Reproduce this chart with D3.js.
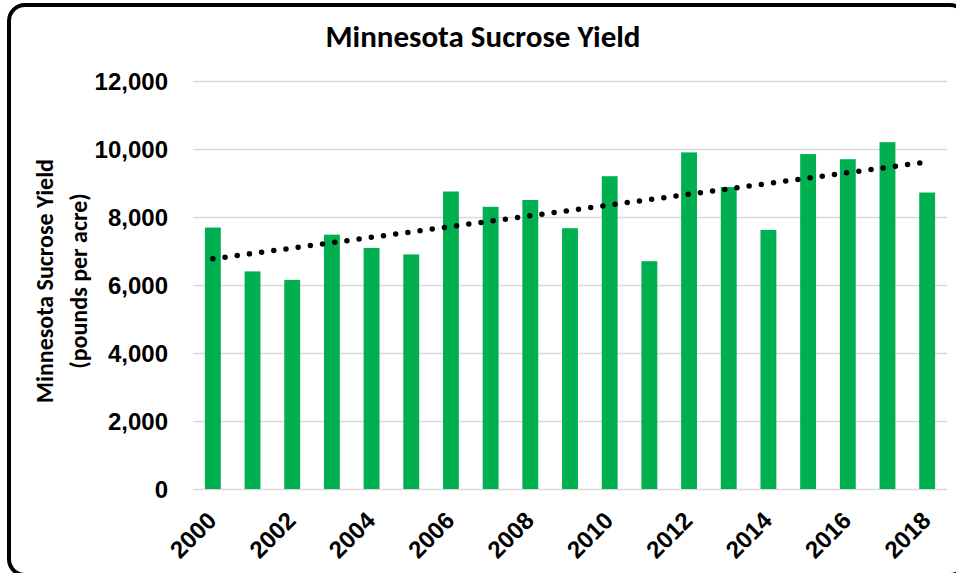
<!DOCTYPE html>
<html>
<head>
<meta charset="utf-8">
<script src="https://cdn.jsdelivr.net/npm/d3@7"></script>
<style>
  body { margin: 0; background: #fff; }
  svg { display: block; font-family: Carlito, Calibri, Lato, sans-serif; font-weight: bold; }
</style>
</head>
<body>
<div id="chartArea"></div>
<script>
// chart data
const years = ["2000", "2001", "2002", "2003", "2004", "2005", "2006", "2007", "2008", "2009",
               "2010", "2011", "2012", "2013", "2014", "2015", "2016", "2017", "2018"];
const yieldLbs = [7690, 6400, 6150, 7480, 7090, 6900, 8750, 8300, 8500, 7670,
                  9200, 6700, 9900, 8880, 7620, 9850, 9700, 10200, 8720];
const yTicks = [0, 2000, 4000, 6000, 8000, 10000, 12000];
const xTickLabels = ["2000", "2002", "2004", "2006", "2008", "2010", "2012", "2014", "2016", "2018"];

const titleText = "Minnesota Sucrose Yield";
const yTitleLines = ["Minnesota Sucrose Yield", "(pounds per acre)"];

const W = 956, H = 573;
const plot = { left: 193, right: 947, top: 81, bottom: 489 };

let svg = d3.select('#chartArea').append('svg')
   .attr('width', W)
   .attr('height', H);

// outer frame (cropped on the right and bottom like the original)
svg.append('rect')
   .attr('x', 9).attr('y', 5)
   .attr('width', 957).attr('height', 570)
   .attr('rx', 16).attr('ry', 16)
   .attr('fill', 'none')
   .attr('stroke', '#000')
   .attr('stroke-width', 4);

let x = d3.scaleBand()
   .domain(years)
   .range([plot.left, plot.right])
   .paddingInner(0.6)
   .paddingOuter(0.3);

let y = d3.scaleLinear()
   .domain([0, 12000])
   .range([plot.bottom, plot.top]);

// gridlines + y labels
let yAxis = d3.axisLeft(y)
   .tickValues(yTicks)
   .tickSize(-(plot.right - plot.left))
   .tickPadding(25)
   .tickFormat(d3.format(','));

let gy = svg.append('g')
   .attr('transform', `translate(${plot.left},0)`)
   .call(yAxis);
gy.select('.domain').remove();
gy.selectAll('.tick line')
   .attr('stroke', '#d9d9d9')
   .attr('stroke-width', 1.5);
gy.selectAll('.tick text')
   .attr('fill', '#000')
   .style('font-size', '24px')
   .style('font-family', null)
   .attr('dy', '0.35em');

// bars
svg.append('g').selectAll('rect')
   .data(years)
   .enter().append('rect')
   .attr('x', d => x(d))
   .attr('y', (d, i) => y(yieldLbs[i]))
   .attr('width', x.bandwidth())
   .attr('height', (d, i) => y(0) - y(yieldLbs[i]))
   .attr('fill', '#00b050');

// linear trendline (least squares on the bar values)
let n = yieldLbs.length;
let xm = d3.mean(d3.range(n));
let ym = d3.mean(yieldLbs);
let slope = d3.sum(yieldLbs, (v, i) => (i - xm) * (v - ym)) / d3.sum(d3.range(n), i => (i - xm) * (i - xm));
let icpt = ym - slope * xm;
let cx = i => x(years[i]) + x.bandwidth() / 2;

svg.append('line')
   .attr('x1', cx(0)).attr('y1', y(icpt))
   .attr('x2', cx(n - 1)).attr('y2', y(icpt + slope * (n - 1)))
   .attr('stroke', '#000')
   .attr('stroke-width', 5.5)
   .attr('stroke-linecap', 'round')
   .attr('stroke-dasharray', '0 12.3');

// x labels, every other year, rotated
let xAxis = d3.axisBottom(x)
   .tickValues(xTickLabels)
   .tickSize(0)
   .tickPadding(0);

let gx = svg.append('g')
   .attr('transform', `translate(0,${plot.bottom})`)
   .call(xAxis);
gx.select('.domain').remove();
gx.selectAll('.tick text')
   .attr('fill', '#000')
   .style('font-size', '24px')
   .style('font-family', null)
   .attr('text-anchor', 'end')
   .attr('dy', null)
   .attr('y', 0)
   .attr('transform', 'translate(5,33) rotate(-45)');

// title
svg.append('text')
   .attr('x', 483)
   .attr('y', 47)
   .attr('text-anchor', 'middle')
   .style('font-size', '31px')
   .text(titleText);

// y axis title, two lines
svg.append('text')
   .attr('transform', 'translate(53,281) rotate(-90)')
   .attr('text-anchor', 'middle')
   .style('font-size', '24px')
   .selectAll('tspan')
   .data(yTitleLines)
   .enter().append('tspan')
   .attr('x', 0)
   .attr('dy', (d, i) => i === 0 ? 0 : 34)
   .text(d => d);
</script>
</body>
</html>
